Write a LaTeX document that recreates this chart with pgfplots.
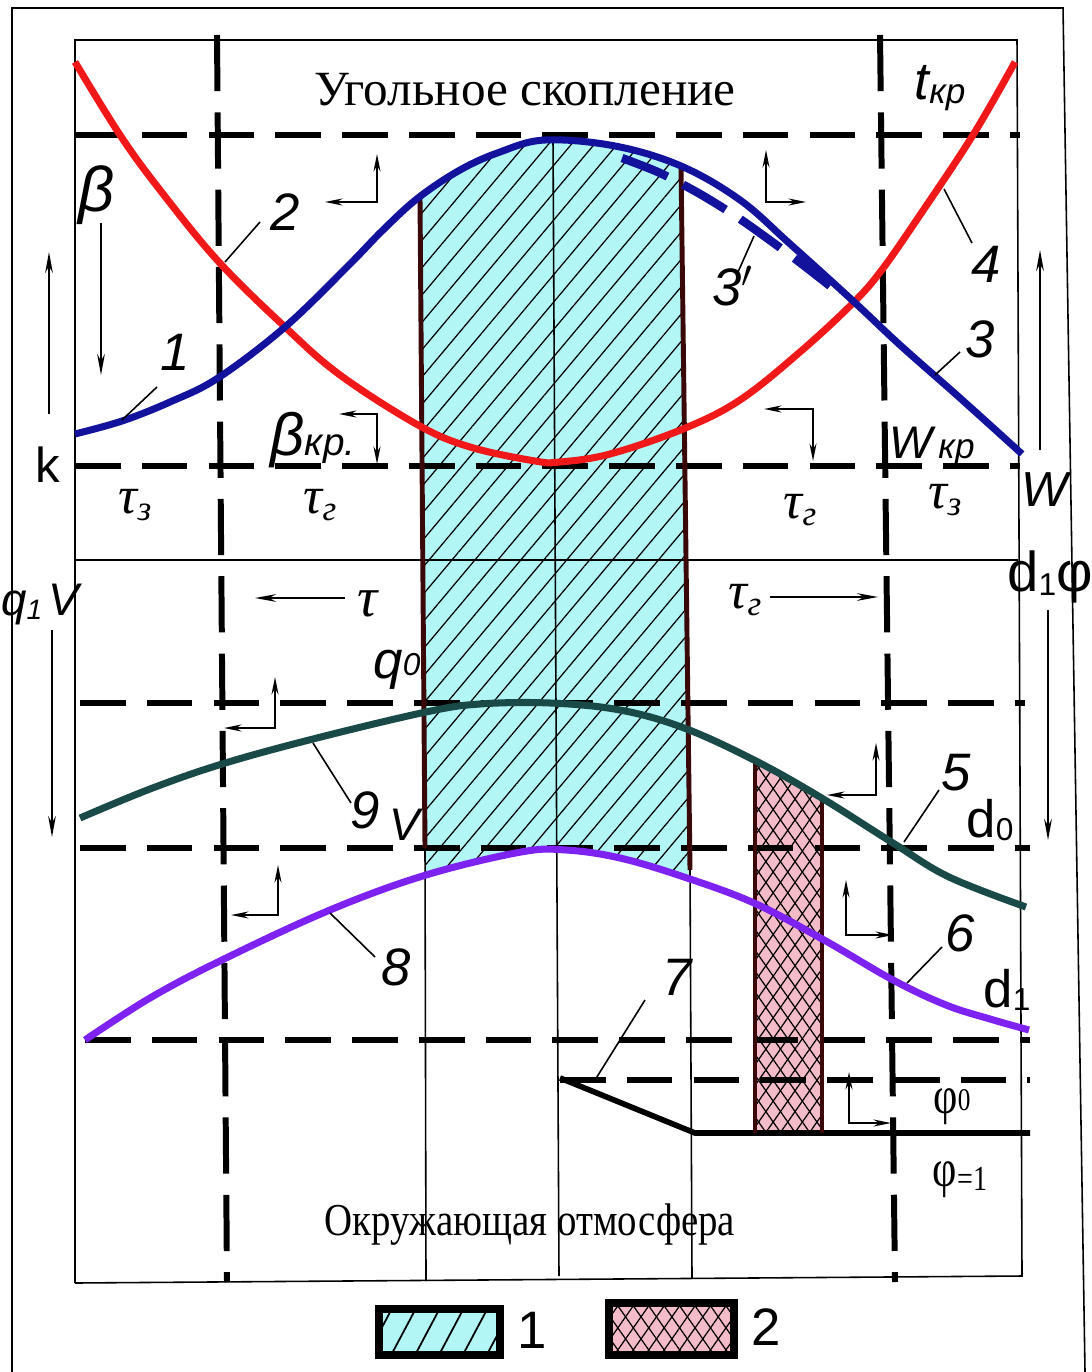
\documentclass[border=0pt]{standalone}
\usepackage{fontspec}
\setmainfont{Liberation Serif}
\setsansfont{Liberation Sans}
\usepackage{pgfplots}
\pgfplotsset{compat=1.18}
\usetikzlibrary{patterns.meta,arrows.meta}
\definecolor{cred}{HTML}{F01818}
\definecolor{cblue}{HTML}{12129C}
\definecolor{cgreen}{HTML}{1A4A48}
\definecolor{cpurple}{HTML}{7E22F2}
\definecolor{ccyan}{HTML}{B2F6F6}
\definecolor{cpink}{HTML}{F4BCC8}
\definecolor{cbrown}{HTML}{3A0808}
\begin{document}
\begin{tikzpicture}
\begin{axis}[
  scale only axis, width=10.91cm, height=13.72cm,
  xmin=0,xmax=1091,ymin=0,ymax=1372, y dir=reverse,
  hide axis, clip=false,
  hd/.style={black, line width=1.7pt, dash pattern=on 13pt off 6pt},
  vd/.style={black, line width=1.7pt, dash pattern=on 16pt off 6pt},
  thin/.style={black, line width=0.45pt},
  crv/.style={line width=2pt, smooth, tension=0.6},
  arr/.style={black, line width=0.45pt, {Stealth[length=5pt,width=2pt]}-{Stealth[length=5pt,width=2pt]}},
  arone/.style={black, line width=0.45pt, -{Stealth[length=6pt,width=2.2pt]}},
  edge/.style={cbrown, line width=1.4pt},
]
\addplot[draw=none] coordinates {(0,0) (1091,1372)};
% cyan hatched region
\addplot[fill=ccyan, draw=none, postaction={pattern={Lines[angle=50,distance=5pt,line width=0.35pt]}, pattern color=black}]
 coordinates {(420,198) (440,183) (460,170) (487,157) (515,146) (545,140) (580,141) (615,146) (650,155) (681,166)
 (690,879) (655,866) (620,858) (590,852) (566,850) (540,851) (500,856) (460,865) (426,875)} -- cycle;
% pink crosshatched region
\addplot[fill=cpink, draw=none,
  postaction={pattern={Lines[angle=55,distance=3.4pt,line width=0.35pt]}, pattern color=black},
  postaction={pattern={Lines[angle=-55,distance=3.4pt,line width=0.35pt]}, pattern color=black}]
 coordinates {(755,760) (790,777) (822,797) (822,1133) (755,1133)} -- cycle;
% outer frame
\addplot[thin] coordinates {(12,1372) (12,8) (1063,8) (1085,1372)};
% inner frame
\addplot[thin] coordinates {(75,1283) (75,40) (1017,40) (1022,1276) (75,1283)};
\addplot[thin] coordinates {(75,560) (1018,560)};
% thin verticals
\addplot[thin] coordinates {(553,140) (559,1276)};
\addplot[thin] coordinates {(425,848) (426,1281)};
\addplot[thin] coordinates {(690,870) (692,1278)};
% dashed horizontals
\addplot[hd] coordinates {(75,135) (1020,135)};
\addplot[hd] coordinates {(75,466) (1020,466)};
\addplot[hd] coordinates {(80,703) (1025,703)};
\addplot[hd] coordinates {(80,848) (1030,848)};
\addplot[hd] coordinates {(85,1040) (1030,1040)};
\addplot[hd] coordinates {(560,1080) (1030,1080)};
% dashed verticals
\addplot[vd] coordinates {(217,35) (227,1282)};
\addplot[vd] coordinates {(880,35) (895,1282)};
% phi lines
\addplot[black, line width=1.6pt] coordinates {(560,1078) (695,1133) (1030,1133)};
% region edges
\addplot[edge] coordinates {(420,198) (425,848)};
\addplot[edge] coordinates {(681,166) (690,870)};
\addplot[edge] coordinates {(755,760) (755,1133)};
\addplot[edge] coordinates {(822,797) (822,1133)};
% curves
\addplot[crv, cred] coordinates {(75,62) (120,135) (160,190) (218,261) (285,327) (340,375) (418,425) (470,447) (535,461) (560,462) (610,454) (683,429) (740,400) (800,352) (852,304) (881,271) (920,215) (973,135) (1015,62)};
\addplot[crv, cblue] coordinates {(75,434) (122,421) (170,402) (218,378) (285,327) (348,266) (382,231) (418,198) (460,170) (500,152) (545,140) (615,146) (681,166) (740,200) (789,243) (852,300) (900,345) (960,398) (1022,454)};
\addplot[cblue, line width=2.4pt, smooth, dash pattern=on 14pt off 5pt] coordinates {(622,158) (660,173) (700,194) (740,219) (790,255) (830,286)};
\addplot[crv, cgreen] coordinates {(80,818) (150,789) (222,764) (313,739) (426,712) (480,704) (550,703) (620,710) (684,728) (754,760) (820,797) (893,843) (949,877) (1026,907)};
\addplot[crv, cpurple] coordinates {(85,1040) (150,998) (222,960) (330,910) (426,875) (521,852) (566,850) (620,858) (684,877) (754,903) (824,940) (893,980) (946,1005) (990,1019) (1029,1030)};
% leaders
\addplot[thin] coordinates {(122,420) (157,387)};
\addplot[thin] coordinates {(225,262) (260,222)};
\addplot[thin] coordinates {(754,236) (738,272)};
\addplot[thin] coordinates {(944,189) (972,243)};
\addplot[thin] coordinates {(935,375) (960,352)};
\addplot[thin] coordinates {(313,743) (351,803)};
\addplot[thin] coordinates {(330,913) (375,957)};
\addplot[thin] coordinates {(904,842) (939,790)};
\addplot[thin] coordinates {(907,983) (942,947)};
\addplot[thin] coordinates {(645,1000) (595,1080)};
% L-shaped arrows
\addplot[arr] coordinates {(377,154) (377,202) (325,202)};
\addplot[arr] coordinates {(766,150) (766,202) (806,202)};
\addplot[arr] coordinates {(339,414) (377,414) (377,464)};
\addplot[arr] coordinates {(764,409) (813,409) (813,461)};
\addplot[arr] coordinates {(275,677) (275,728) (224,728)};
\addplot[arr] coordinates {(278,865) (278,915) (231,915)};
\addplot[arr] coordinates {(876,743) (876,795) (827,795)};
\addplot[arr] coordinates {(846,880) (846,935) (893,935)};
\addplot[arr] coordinates {(849,1072) (849,1123) (891,1123)};
% long arrows
\addplot[arone] coordinates {(101,223) (101,375)};
\addplot[arone] coordinates {(49,414) (49,252)};
\addplot[arone] coordinates {(1040,450) (1040,250)};
\addplot[arone] coordinates {(52,630) (52,837)};
\addplot[arone] coordinates {(1048,610) (1048,840)};
\addplot[arone] coordinates {(345,598) (255,598)};
\addplot[arone] coordinates {(770,597) (878,597)};
% legend boxes
\addplot[fill=ccyan, draw=black, line width=2.2pt, postaction={pattern={Lines[angle=62,distance=6pt,line width=0.5pt]}, pattern color=black}]
 coordinates {(379,1309) (500,1309) (500,1355) (379,1355)} -- cycle;
\addplot[fill=cpink, draw=black, line width=2.2pt,
  postaction={pattern={Lines[angle=55,distance=3.6pt,line width=0.35pt]}, pattern color=black},
  postaction={pattern={Lines[angle=-55,distance=3.6pt,line width=0.35pt]}, pattern color=black}]
 coordinates {(609,1303) (734,1303) (734,1355) (609,1355)} -- cycle;
% texts
\node at (axis cs:525,90) {\fontsize{14}{16}\selectfont Угольное скопление};
\node[xscale=0.85] at (axis cs:530,1225) {\fontsize{13}{15}\selectfont Окружающая отмосфера};
\node at (axis cs:97,195) {\fontsize{18}{20}\selectfont\sffamily\itshape β};
\node at (axis cs:48,465) {\fontsize{14}{16}\selectfont\sffamily k};
\node at (axis cs:313,440) {\sffamily\itshape{\fontsize{17}{18}\selectfont β}{\fontsize{11}{12}\selectfont кр.}};
\node at (axis cs:135,505) {\itshape{\fontsize{15}{16}\selectfont τ}\raisebox{-2pt}{\fontsize{10}{11}\selectfont з}};
\node at (axis cs:320,505) {\itshape{\fontsize{15}{16}\selectfont τ}\raisebox{-2pt}{\fontsize{10}{11}\selectfont г}};
\node at (axis cs:800,510) {\itshape{\fontsize{15}{16}\selectfont τ}\raisebox{-2pt}{\fontsize{10}{11}\selectfont г}};
\node at (axis cs:945,500) {\itshape{\fontsize{15}{16}\selectfont τ}\raisebox{-2pt}{\fontsize{10}{11}\selectfont з}};
\node at (axis cs:940,88) {\sffamily\itshape{\fontsize{15}{16}\selectfont t}\raisebox{-1pt}{\fontsize{10}{11}\selectfont кр}};
\node at (axis cs:932,446) {\sffamily\itshape{\fontsize{13}{15}\selectfont W}\,{\fontsize{10}{11}\selectfont кр}};
\node at (axis cs:1045,490) {\sffamily\itshape\fontsize{14}{16}\selectfont W};
\node at (axis cs:1050,577) {\sffamily{\fontsize{16}{18}\selectfont d}\raisebox{-1pt}{\fontsize{9}{10}\selectfont 1}{\fontsize{16}{18}\selectfont φ}};
\node[inner sep=0pt] at (axis cs:40,605) {\sffamily\itshape{\fontsize{13}{15}\selectfont q}\raisebox{-1pt}{\fontsize{8}{9}\selectfont 1}\,{\fontsize{13}{15}\selectfont V}};
\node at (axis cs:368,604) {\itshape\fontsize{16}{18}\selectfont τ};
\node at (axis cs:745,600) {\itshape{\fontsize{15}{16}\selectfont τ}\raisebox{-2pt}{\fontsize{10}{11}\selectfont г}};
\node at (axis cs:397,670) {\sffamily\itshape{\fontsize{15}{16}\selectfont q}\raisebox{1pt}{\fontsize{9}{10}\selectfont 0}};
\node at (axis cs:365,810) {\sffamily\itshape\fontsize{15}{16}\selectfont 9};
\node at (axis cs:405,825) {\sffamily\itshape\fontsize{13}{15}\selectfont V};
\node at (axis cs:396,967) {\sffamily\itshape\fontsize{15}{16}\selectfont 8};
\node at (axis cs:956,773) {\sffamily\itshape\fontsize{15}{16}\selectfont 5};
\node at (axis cs:990,820) {\sffamily{\fontsize{15}{16}\selectfont d}\raisebox{-1pt}{\fontsize{9}{10}\selectfont 0}};
\node at (axis cs:960,933) {\sffamily\itshape\fontsize{15}{16}\selectfont 6};
\node at (axis cs:1007,990) {\sffamily{\fontsize{15}{16}\selectfont d}\raisebox{-1pt}{\fontsize{9}{10}\selectfont 1}};
\node at (axis cs:677,977) {\sffamily\itshape\fontsize{15}{16}\selectfont 7};
\node[xscale=0.8] at (axis cs:952,1107) {{\fontsize{15}{16}\selectfont φ}\raisebox{1pt}{\fontsize{9}{10}\selectfont 0}};
\node[xscale=0.8] at (axis cs:960,1180) {{\fontsize{15}{16}\selectfont φ}\raisebox{-1pt}{\fontsize{10}{11}\selectfont =1}};
\node at (axis cs:175,352) {\sffamily\itshape\fontsize{15}{16}\selectfont 1};
\node at (axis cs:285,212) {\sffamily\itshape\fontsize{15}{16}\selectfont 2};
\node at (axis cs:733,286) {\sffamily\itshape\fontsize{15}{16}\selectfont 3$'$};
\node at (axis cs:986,264) {\sffamily\itshape\fontsize{15}{16}\selectfont 4};
\node at (axis cs:980,339) {\sffamily\itshape\fontsize{15}{16}\selectfont 3};
\node at (axis cs:532,1330) {\sffamily\fontsize{15}{16}\selectfont 1};
\node at (axis cs:766,1327) {\sffamily\fontsize{15}{16}\selectfont 2};
\end{axis}
\pgfresetboundingbox
\useasboundingbox (current axis.south west) rectangle (current axis.north east);
\end{tikzpicture}
\end{document}
